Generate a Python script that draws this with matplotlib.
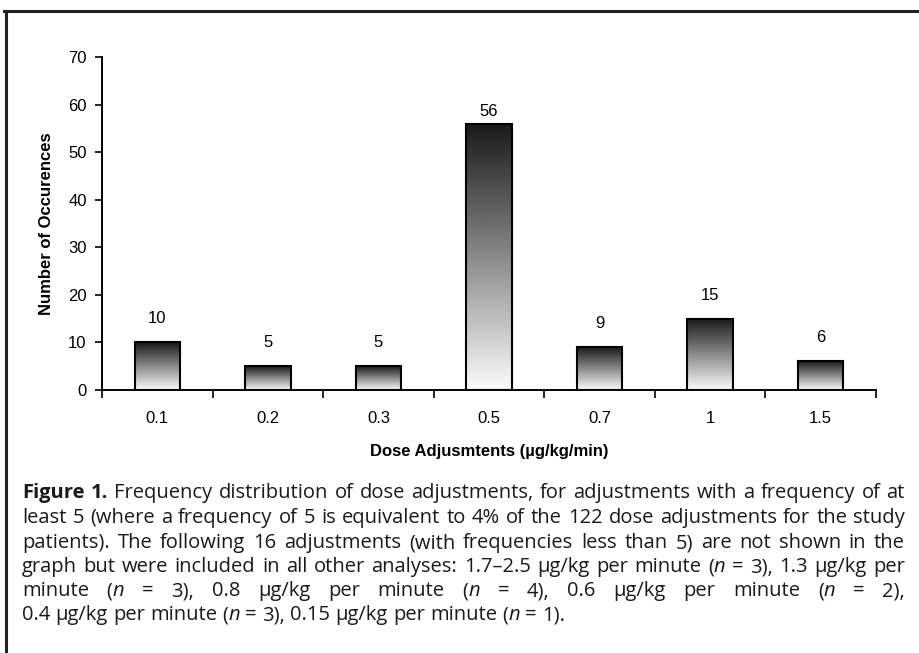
import re
import numpy as np
import matplotlib
matplotlib.use("Agg")
import matplotlib.pyplot as plt
from matplotlib.lines import Line2D
from matplotlib import font_manager

# data
doses = ["0.1", "0.2", "0.3", "0.5", "0.7", "1", "1.5"]
counts = [10, 5, 5, 56, 9, 15, 6]

x_label = "Dose Adjusmtents (µg/kg/min)"
y_label = "Number of Occurences"
y_ticks = [0, 10, 20, 30, 40, 50, 60, 70]

# ** toggles bold, _ toggles italic
caption_lines = [
    "**Figure 1.** Frequency distribution of dose adjustments, for adjustments with a frequency of at",
    "least 5 (where a frequency of 5 is equivalent to 4% of the 122 dose adjustments for the study",
    "patients). The following 16 adjustments (with frequencies less than 5) are not shown in the",
    "graph but were included in all other analyses: 1.7–2.5 µg/kg per minute (_n_ = 3), 1.3 µg/kg per",
    "minute (_n_ = 3), 0.8 µg/kg per minute (_n_ = 4), 0.6 µg/kg per minute (_n_ = 2),",
    "0.4 µg/kg per minute (_n_ = 3), 0.15 µg/kg per minute (_n_ = 1).",
]

CHART_FONT = "Liberation Sans"
names = {f.name for f in font_manager.fontManager.ttflist}
CAP_FONT = "DejaVu Sans"
for cand in ["Open Sans", "Noto Sans", "Lato"]:
    if cand in names:
        CAP_FONT = cand
        break

plt.rcParams.update({
    "font.family": CHART_FONT,
    "font.size": 12,
    "axes.linewidth": 1.4,
    "xtick.color": "black",
    "ytick.color": "black",
})

W, H = 919, 653
fig = plt.figure(figsize=(W / 100, H / 100), dpi=100)
ax = fig.add_axes([102 / W, 1 - 390 / H, (876 - 102) / W, (390 - 57) / H])

xpos = np.arange(len(doses))
bars = ax.bar(xpos, counts, width=0.41, color="none", edgecolor="black",
              linewidth=1.5, zorder=3)

# vertical grey gradient inside each bar: dark top -> white bottom
grad = np.linspace(0.1, 0.98, 256)[:, None]
for b in bars:
    x0, y0 = b.get_x(), b.get_y()
    im = ax.imshow(grad, cmap="gray", vmin=0, vmax=1, aspect="auto",
                   extent=(x0, x0 + b.get_width(), y0, y0 + b.get_height()),
                   origin="upper", zorder=2, interpolation="bilinear")
    im.set_clip_path(b)

for xi, c in zip(xpos, counts):
    off = 9 if c == max(counts) else 17
    ax.annotate(str(c), (xi, c), xytext=(0, off), textcoords="offset points",
                ha="center", va="center", fontsize=12)

ax.set_xlim(-0.5, len(doses) - 0.5)
ax.set_ylim(0, 70)
ax.set_yticks(y_ticks)
ax.set_yticklabels([str(t) for t in y_ticks], fontsize=12)
ax.tick_params(axis="y", direction="out", length=5, width=1.2, pad=6)
ax.set_xticks(xpos)
ax.set_xticklabels(doses, fontsize=12)
ax.tick_params(axis="x", which="major", length=0, pad=15)
ax.set_xticks(np.arange(len(doses) + 1) - 0.5, minor=True)
ax.tick_params(axis="x", which="minor", direction="out", length=6, width=1.2)
for s in ("top", "right"):
    ax.spines[s].set_visible(False)
ax.set_xlabel(x_label, fontweight="bold", fontsize=12, labelpad=13)
ax.set_ylabel(y_label, fontweight="bold", fontsize=12, labelpad=10)

# outer frame: top and left rules only
fig.add_artist(Line2D([4 / W, 1], [1 - 11 / H] * 2, color="#222222", lw=2.2,
                      transform=fig.transFigure))
fig.add_artist(Line2D([5.5 / W] * 2, [1 - 11 / H, 0], color="#222222", lw=2.2,
                      transform=fig.transFigure))


def parse(line):
    words = []
    bold = italic = False
    for word in line.split(" "):
        segs = []
        for part in re.split(r"(\*\*|_)", word):
            if part == "**":
                bold = not bold
            elif part == "_":
                italic = not italic
            elif part:
                segs.append((part, bold, italic))
        words.append(segs)
    return words


left_px, right_px = 22, 905
last_right_px = 591
line_y = [493, 518, 543, 567, 591, 615]
fig.canvas.draw()
renderer = fig.canvas.get_renderer()


def make(txt, x, y, b, i, size):
    return fig.text(x / W, 1 - y / H, txt, fontsize=size, family=CAP_FONT,
                    fontweight="bold" if b else "normal",
                    fontstyle="italic" if i else "normal",
                    ha="left", va="center", color="#1a1a1a")


def width(txt, size):
    t = make(txt, 0, 0, False, False, size)
    w = t.get_window_extent(renderer).width
    t.remove()
    return w


# size the caption so the (unjustified) last line spans as in the reference
plain_last = caption_lines[-1].replace("_", "")
CAP_SIZE = 12 * (last_right_px - left_px) / width(plain_last, 12)
CAP_SIZE = max(10.5, min(CAP_SIZE, 14.5))
space_w = width("a a", CAP_SIZE) - width("aa", CAP_SIZE)

for li, line in enumerate(caption_lines):
    words = parse(line)
    y = line_y[li]
    arts = []
    widths = []
    for segs in words:
        wa = []
        ww = 0
        for txt, b, i in segs:
            t = make(txt, 0, y, b, i, CAP_SIZE)
            w = t.get_window_extent(renderer).width
            wa.append((t, w))
            ww += w
        arts.append(wa)
        widths.append(ww)
    gap = space_w
    if li < len(caption_lines) - 1:
        gap = (right_px - left_px - sum(widths)) / (len(words) - 1)
    x = left_px
    for wa, ww in zip(arts, widths):
        xx = x
        for t, w in wa:
            t.set_x(xx / W)
            xx += w
        x += ww + gap

fig.savefig("out.png", dpi=100, facecolor="white")
